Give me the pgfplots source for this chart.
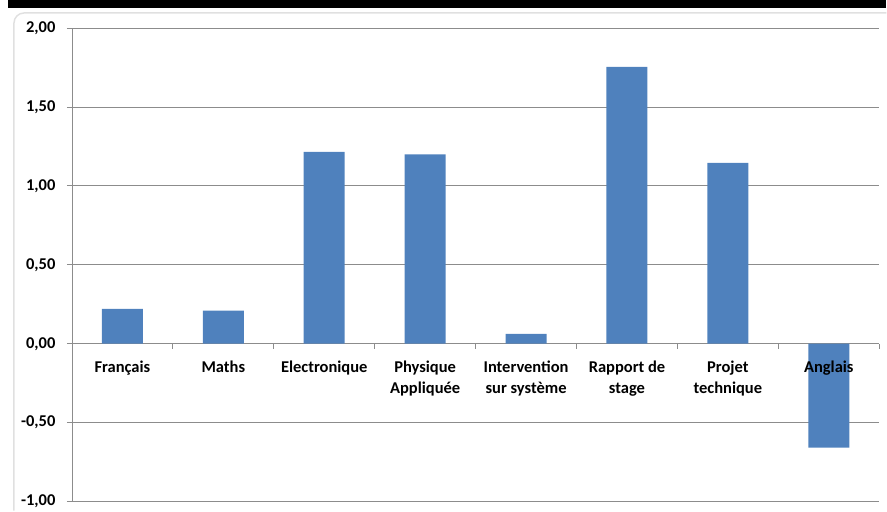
\documentclass[border=0pt]{standalone}
\usepackage{fontspec}
\setmainfont{Carlito}
\usepackage{pgfplots}
\pgfplotsset{compat=1.18}
\definecolor{barblue}{HTML}{4F81BD}
\definecolor{gridgray}{HTML}{8C8C8C}
\begin{document}
\begin{tikzpicture}[x=1pt,y=1pt]
% screenshot frame
\fill[black] (8,503) rectangle (887,511);
\draw[black!12,line width=1.5pt] (14,0) -- (14,488) arc[start angle=180,end angle=90,radius=10] -- (887,498);
\begin{axis}[
  set layers,
  at={(72pt,9pt)}, anchor=south west,
  scale only axis, width=808pt, height=474pt,
  ymin=-1, ymax=2,
  xmin=-0.5, xmax=7.5,
  axis y line*=left,
  axis x line*=middle,
  axis line style={gridgray,line width=0.8pt,-},
  ytick={-1,-0.5,...,2},
  ymajorgrids,
  grid style={gridgray,line width=0.8pt},
  xtick={0,...,7},
  xticklabels={Français,Maths,Electronique,{Physique\\Appliquée},{Intervention\\sur système},{Rapport de\\stage},{Projet\\technique},Anglais},
  minor xtick={-0.5,0.5,...,7.5},
  major x tick style={draw=none},
  minor x tick style={gridgray,line width=0.8pt},
  major y tick style={gridgray,line width=0.8pt},
  tick align=outside,
  major tick length=5pt, minor tick length=5pt,
  x tick label style={align=center,font=\bfseries\fontsize{16.5}{21}\selectfont,yshift=-9pt},
  y tick label style={font=\bfseries\fontsize{16.5}{18}\selectfont,xshift=-8pt},
  /pgf/number format/.cd, fixed, fixed zerofill, precision=2, use comma, assume math mode=true,
]
\addplot[ybar, bar width=41pt, fill=barblue, draw=none, on layer=axis lines] coordinates {
(0,0.22) (1,0.21) (2,1.215) (3,1.20) (4,0.063) (5,1.753) (6,1.146) (7,-0.658)
};
\end{axis}
\useasboundingbox (0,0) rectangle (887,511);
\end{tikzpicture}
\end{document}
